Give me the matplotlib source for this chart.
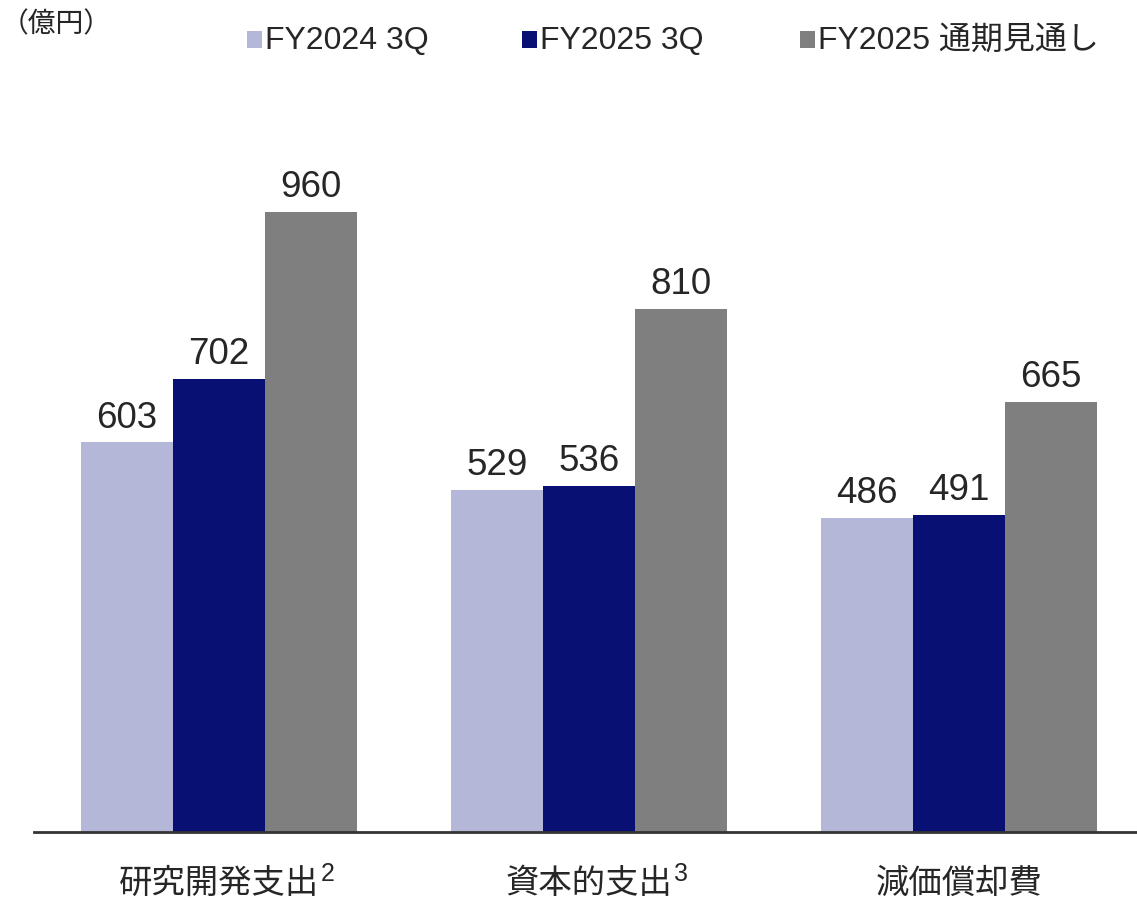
import matplotlib.pyplot as plt
from matplotlib.patches import Rectangle

plt.rcParams['font.family'] = ['Liberation Sans', 'Noto Sans CJK JP']

categories = ["研究開発支出", "資本的支出", "減価償却費"]
notes = ["2", "3", ""]
series = ["FY2024 3Q", "FY2025 3Q", "FY2025 通期見通し"]
fy2024_3q = [603, 529, 486]
fy2025_3q = [702, 536, 491]
fy2025_full = [960, 810, 665]
colors = ["#B4B7D8", "#081073", "#7F7F7F"]
text_color = "#262626"

fig = plt.figure(figsize=(11.37, 9), dpi=100)
W, H = 1137, 900
ax = fig.add_axes([34 / W, 68 / H, 1 - 34 / W, 646 / H])

width = 0.249
offsets = [-width, 0, width]
x = list(range(len(categories)))
for vals, off, c in zip([fy2024_3q, fy2025_3q, fy2025_full], offsets, colors):
    xs = [i + off for i in x]
    ax.bar(xs, vals, width=width, color=c, edgecolor="none")
    for xi, v in zip(xs, vals):
        ax.annotate(str(v), (xi, v), xytext=(0, 5), textcoords="offset points",
                    ha="center", va="bottom", fontsize=26.5, color=text_color)

ax.set_xlim(-0.5, 2.481)
ax.set_ylim(0, 1000)
for s in ["top", "right", "left"]:
    ax.spines[s].set_visible(False)
ax.spines["bottom"].set_color("#333333")
ax.spines["bottom"].set_linewidth(2)
ax.set_yticks([])
ax.set_xticks([])

for i, (name, note) in enumerate(zip(categories, notes)):
    t = ax.text(i, -81, name, ha="center", va="center", fontsize=24, color=text_color)
    if note:
        ax.annotate(note, xy=(1, 1), xycoords=t, xytext=(1, 5), textcoords="offset points",
                    ha="left", va="top", fontsize=18, color=text_color)

fig.text(1 / W, 1 - 25 / H, "（億円）", ha="left", va="center", fontsize=20, color=text_color)

legend_x = [247, 522, 800]
for lx, name, c in zip(legend_x, series, colors):
    fig.add_artist(Rectangle((lx / W, 1 - 48 / H), 15 / W, 17 / H, transform=fig.transFigure,
                             facecolor=c, edgecolor="none"))
    fig.text((lx + 18) / W, 1 - 41 / H, name, ha="left", va="center", fontsize=23, color=text_color)

fig.savefig("out.png", dpi=100)
